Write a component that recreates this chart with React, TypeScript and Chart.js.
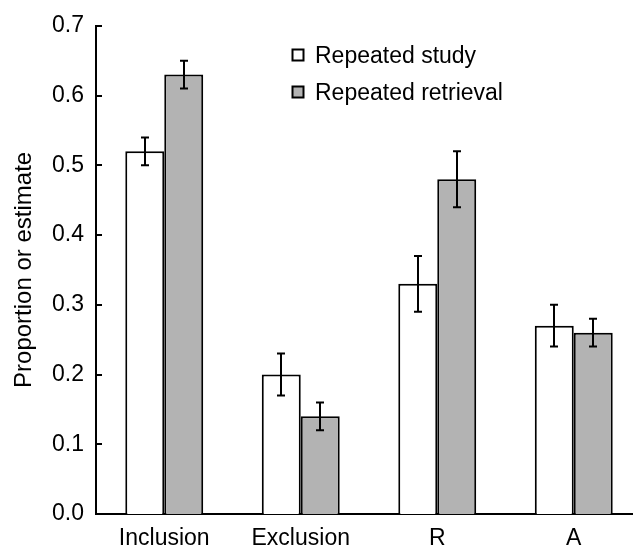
import React, { useEffect, useRef } from 'react';
import { Chart, registerables } from 'chart.js';

Chart.register(...registerables);

const categories = ['Inclusion', 'Exclusion', 'R', 'A'];
const seriesNames = ['Repeated study', 'Repeated retrieval'];
const studyValues = [0.52, 0.2, 0.33, 0.27];
const studyErrors = [0.02, 0.03, 0.04, 0.03];
const retrievalValues = [0.63, 0.14, 0.48, 0.26];
const retrievalErrors = [0.02, 0.02, 0.04, 0.02];
const yMin = 0;
const yMax = 0.7;
const yStep = 0.1;
const yTitle = 'Proportion or estimate';

const FONT = '"Liberation Sans", Arial, Helvetica, sans-serif';
const GRAY = '#b3b3b3';

const errorBarPlugin = {
  id: 'errorBars',
  afterDatasetsDraw(chart: any) {
    const ctx = chart.ctx;
    const yScale = chart.scales.y;
    ctx.save();
    ctx.strokeStyle = '#000';
    ctx.lineWidth = 2;
    chart.data.datasets.forEach((ds: any, i: number) => {
      const meta = chart.getDatasetMeta(i);
      meta.data.forEach((el: any, j: number) => {
        const v = ds.data[j];
        const e = ds.errors[j];
        const x = Math.round(el.x);
        const yt = yScale.getPixelForValue(v + e);
        const yb = yScale.getPixelForValue(v - e);
        ctx.beginPath();
        ctx.moveTo(x, yt);
        ctx.lineTo(x, yb);
        ctx.moveTo(x - 4, yt);
        ctx.lineTo(x + 4, yt);
        ctx.moveTo(x - 4, yb);
        ctx.lineTo(x + 4, yb);
        ctx.stroke();
      });
    });
    ctx.restore();
  },
};

const inwardTicksPlugin = {
  id: 'inwardTicks',
  afterDraw(chart: any) {
    const ctx = chart.ctx;
    const y = chart.scales.y;
    const left = chart.chartArea.left;
    ctx.save();
    ctx.strokeStyle = '#000';
    ctx.lineWidth = 2;
    y.ticks.forEach((t: any) => {
      const py = Math.round(y.getPixelForValue(t.value));
      ctx.beginPath();
      ctx.moveTo(left - 1, py);
      ctx.lineTo(left + 6, py);
      ctx.stroke();
    });
    ctx.restore();
  },
};

const legendPlugin = {
  id: 'boxLegend',
  afterDraw(chart: any) {
    const ctx = chart.ctx;
    ctx.save();
    ctx.font = `23px ${FONT}`;
    ctx.textBaseline = 'middle';
    ctx.textAlign = 'left';
    chart.data.datasets.forEach((ds: any, i: number) => {
      const bx = 292.5;
      const cy = 55.5 + i * 37;
      ctx.fillStyle = ds.backgroundColor;
      ctx.fillRect(bx, cy - 6, 11, 11);
      ctx.lineWidth = 2;
      ctx.strokeStyle = '#000';
      ctx.strokeRect(bx, cy - 6, 11, 11);
      ctx.fillStyle = '#000';
      ctx.fillText(ds.label, 315, cy + 1);
    });
    ctx.restore();
  },
};

export default function App() {
  const ref = useRef<HTMLCanvasElement | null>(null);

  useEffect(() => {
    if (!ref.current) return;
    const chart = new Chart(ref.current, {
      type: 'bar',
      data: {
        labels: categories,
        datasets: [
          {
            label: seriesNames[0],
            data: studyValues,
            errors: studyErrors,
            backgroundColor: '#ffffff',
            borderColor: '#000',
            borderWidth: 2,
          } as any,
          {
            label: seriesNames[1],
            data: retrievalValues,
            errors: retrievalErrors,
            backgroundColor: GRAY,
            borderColor: '#000',
            borderWidth: 2,
          } as any,
        ],
      },
      options: {
        animation: false,
        responsive: false,
        devicePixelRatio: 1,
        layout: { padding: { top: 21, right: 18, bottom: 0, left: 0 } },
        datasets: {
          bar: { categoryPercentage: 0.571, barPercentage: 1.0 },
        },
        plugins: {
          legend: { display: false },
          tooltip: { enabled: false },
        },
        scales: {
          x: {
            grid: { display: false, drawTicks: false },
            border: { display: true, color: '#000', width: 2 },
            ticks: {
              color: '#000',
              font: { family: FONT, size: 23 },
              padding: 11,
              maxRotation: 0,
            },
            afterFit: (s: any) => {
              s.height = 38;
            },
          },
          y: {
            min: yMin,
            max: yMax,
            grid: { display: false, drawTicks: false },
            border: { display: true, color: '#000', width: 2 },
            ticks: {
              stepSize: yStep,
              color: '#000',
              font: { family: FONT, size: 23 },
              padding: 12,
              callback: (v: any) => Number(v).toFixed(1),
            },
            title: {
              display: true,
              text: yTitle,
              color: '#000',
              font: { family: FONT, size: 24 },
              padding: { top: 10, bottom: 0 },
            },
            afterFit: (s: any) => {
              s.width = 96;
            },
          },
        },
      },
      plugins: [errorBarPlugin, inwardTicksPlugin, legendPlugin],
    });
    return () => chart.destroy();
  }, []);

  return (
    <div
      style={{
        position: 'fixed',
        left: 0,
        top: 0,
        width: 633,
        height: 552,
        overflow: 'hidden',
        background: '#fff',
      }}
    >
      <canvas ref={ref} width={660} height={552} style={{ display: 'block' }} />
    </div>
  );
}
